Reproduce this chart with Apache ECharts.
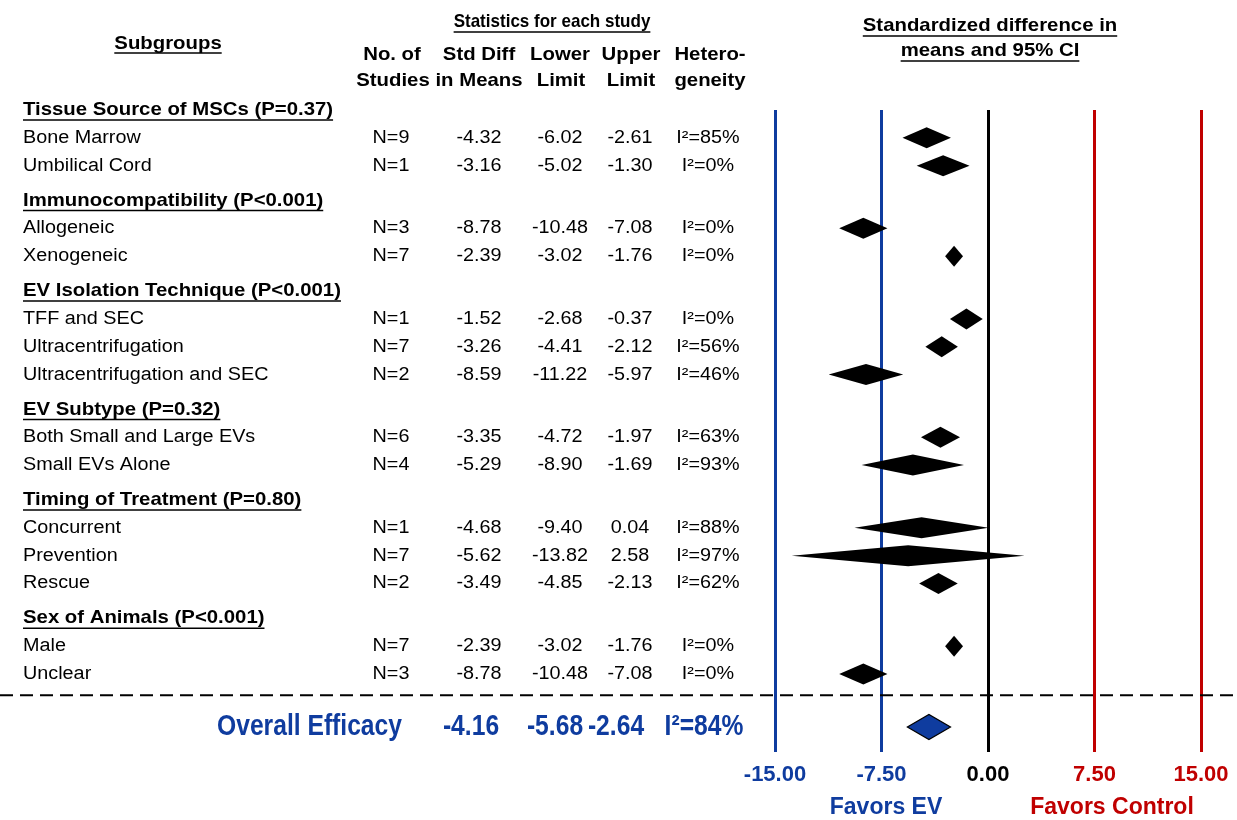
<!DOCTYPE html>
<html>
<head>
<meta charset="utf-8">
<script src="https://cdn.jsdelivr.net/npm/echarts@6/dist/echarts.min.js"></script>
<style>
html,body{margin:0;padding:0;background:#fff;}
#main{width:1237px;height:820px;}
</style>
</head>
<body>
<div id="main"></div>
<script>
// ---------------- DATA ----------------
const groupHeaders = [
  'Tissue Source of MSCs (P=0.37)',
  'Immunocompatibility (P<0.001)',
  'EV Isolation Technique (P<0.001)',
  'EV Subtype (P=0.32)',
  'Timing of Treatment (P=0.80)',
  'Sex of Animals (P<0.001)'
];
const subgroupLabels = [
  'Bone Marrow', 'Umbilical Cord',
  'Allogeneic', 'Xenogeneic',
  'TFF and SEC', 'Ultracentrifugation', 'Ultracentrifugation and SEC',
  'Both Small and Large EVs', 'Small EVs Alone',
  'Concurrent', 'Prevention', 'Rescue',
  'Male', 'Unclear'
];
const subgroupGroup = [0,0, 1,1, 2,2,2, 3,3, 4,4,4, 5,5];
const nStudies      = [9,1, 3,7, 1,7,2, 6,4, 1,7,2, 7,3];
const stdDiff    = [-4.32,-3.16, -8.78,-2.39, -1.52,-3.26,-8.59, -3.35,-5.29, -4.68,-5.62,-3.49, -2.39,-8.78];
const lowerLimit = [-6.02,-5.02, -10.48,-3.02, -2.68,-4.41,-11.22, -4.72,-8.90, -9.40,-13.82,-4.85, -3.02,-10.48];
const upperLimit = [-2.61,-1.30, -7.08,-1.76, -0.37,-2.12,-5.97, -1.97,-1.69, 0.04,2.58,-2.13, -1.76,-7.08];
const heterogeneityI2 = [85,0, 0,0, 0,56,46, 63,93, 88,97,62, 0,0];

const overallLabel = 'Overall Efficacy';
const overallStdDiff = -4.16;
const overallLower = -5.68;
const overallUpper = -2.64;
const overallI2 = 84;

const axisTicks = [-15, -7.5, 0, 7.5, 15];

// ---------------- STYLE ----------------
const FONT = "'Liberation Sans', Arial, Helvetica, sans-serif";
const BLUE = '#0f3c9f';
const RED = '#c00000';
const SX = 1.1;           // horizontal stretch of reference text
const BODY = 18, HEAD = 18.5;
const COL = { label: 23, n: 391, sd: 479, lo: 560, up: 630, het: 708 };
const GAP = 0.25;

const mctx = document.createElement('canvas').getContext('2d');
function measure(text, font) { mctx.font = font; return mctx.measureText(text).width; }

function T(x, y, text, size, weight, color, align, sx) {
  const font = weight + ' ' + size + 'px ' + FONT;
  return { type: 'text', x: x, y: y, scaleX: sx || 1, silent: true,
    style: { text: text, font: font, fill: color, align: align, verticalAlign: 'middle',
             textAlign: align, textVerticalAlign: 'middle' } };
}
function U(x, y, text, size, weight, color, align, sx, off) {
  const font = weight + ' ' + size + 'px ' + FONT;
  const w = measure(text, font) * (sx || 1);
  const x0 = align === 'center' ? x - w / 2 : (align === 'right' ? x - w : x);
  const yy = y + (off || size * 0.55);
  return [T(x, y, text, size, weight, color, align, sx),
    { type: 'line', silent: true, shape: { x1: x0, y1: yy, x2: x0 + w, y2: yy },
      style: { stroke: color, lineWidth: 1.5 } }];
}

// ---------------- ROWS ----------------
const rows = [];
let pos = 0;
groupHeaders.forEach(function (h, g) {
  if (g > 0) pos += GAP;
  rows.push([0, 0, 0, pos, 0, g]);
  pos += 1;
  subgroupGroup.forEach(function (gg, i) {
    if (gg === g) { rows.push([lowerLimit[i], stdDiff[i], upperLimit[i], pos, 1, i]); pos += 1; }
  });
});
const lastPos = pos - 1;
rows.push([overallLower, overallStdDiff, overallUpper, lastPos + 1.9, 2, 0]);
const dashPos = lastPos + 0.76;

function renderItem(params, api) {
  const kind = api.value(4), idx = api.value(5), p = api.value(3);
  const y = api.coord([0, p])[1];
  let ch = [];
  if (kind === 0) {
    ch = ch.concat(U(COL.label, y, groupHeaders[idx], HEAD, 'bold', '#000', 'left', SX, 10));
  } else if (kind === 1) {
    ch.push(T(COL.label, y, subgroupLabels[idx], BODY, 'normal', '#000', 'left', SX));
    ch.push(T(COL.n, y, 'N=' + nStudies[idx], BODY, 'normal', '#000', 'center', SX));
    ch.push(T(COL.sd, y, stdDiff[idx].toFixed(2), BODY, 'normal', '#000', 'center', SX));
    ch.push(T(COL.lo, y, lowerLimit[idx].toFixed(2), BODY, 'normal', '#000', 'center', SX));
    ch.push(T(COL.up, y, upperLimit[idx].toFixed(2), BODY, 'normal', '#000', 'center', SX));
    ch.push(T(COL.het, y, 'I\u00B2=' + heterogeneityI2[idx] + '%', BODY, 'normal', '#000', 'center', SX));
    const l = api.coord([api.value(0), p]), m = api.coord([api.value(1), p]), u = api.coord([api.value(2), p]);
    const h = 10.5;
    ch.push({ type: 'polygon', shape: { points: [[l[0], y], [m[0], y - h], [u[0], y], [m[0], y + h]] },
      style: { fill: '#000' } });
  } else {
    const OS = 29, OSX = 0.85;
    ch.push(T(402, y, overallLabel, OS, 'bold', BLUE, 'right', OSX));
    ch.push(T(471, y, overallStdDiff.toFixed(2), OS, 'bold', BLUE, 'center', OSX));
    ch.push(T(555, y, overallLower.toFixed(2), OS, 'bold', BLUE, 'center', OSX));
    ch.push(T(616, y, overallUpper.toFixed(2), OS, 'bold', BLUE, 'center', OSX));
    ch.push(T(704, y, 'I\u00B2=' + overallI2 + '%', OS, 'bold', BLUE, 'center', OSX));
    const l = api.coord([api.value(0), p]), m = api.coord([api.value(1), p]), u = api.coord([api.value(2), p]);
    const h = 12.5;
    ch.push({ type: 'polygon', shape: { points: [[l[0], y], [m[0], y - h], [u[0], y], [m[0], y + h]] },
      style: { fill: BLUE, stroke: '#000', lineWidth: 1.2 } });
    const yd = api.coord([0, dashPos])[1];
    ch.push({ type: 'line', shape: { x1: 0, y1: yd, x2: 1233, y2: yd },
      style: { stroke: '#000', lineWidth: 2, lineDash: [13, 7] } });
  }
  return { type: 'group', children: ch };
}

const headerGraphics = [].concat(
  U(168, 44, 'Subgroups', HEAD, 'bold', '#000', 'center', SX, 9),
  U(552, 22, 'Statistics for each study', HEAD, 'bold', '#000', 'center', 0.92, 10),
  [T(392, 55, 'No. of', HEAD, 'bold', '#000', 'center', SX),
   T(393, 81, 'Studies', HEAD, 'bold', '#000', 'center', SX),
   T(479, 55, 'Std Diff', HEAD, 'bold', '#000', 'center', SX),
   T(479, 81, 'in Means', HEAD, 'bold', '#000', 'center', SX),
   T(560, 55, 'Lower', HEAD, 'bold', '#000', 'center', SX),
   T(561, 81, 'Limit', HEAD, 'bold', '#000', 'center', SX),
   T(631, 55, 'Upper', HEAD, 'bold', '#000', 'center', SX),
   T(631, 81, 'Limit', HEAD, 'bold', '#000', 'center', SX),
   T(710, 55, 'Hetero-', HEAD, 'bold', '#000', 'center', SX),
   T(710, 81, 'geneity', HEAD, 'bold', '#000', 'center', SX)],
  U(990, 26, 'Standardized difference in', HEAD, 'bold', '#000', 'center', SX, 10),
  U(990, 51, 'means and 95% CI', HEAD, 'bold', '#000', 'center', SX, 10),
  [T(886, 808, 'Favors EV', 23, 'bold', BLUE, 'center', 1),
   T(1112, 808, 'Favors Control', 23, 'bold', RED, 'center', 1)]
);

const chart = echarts.init(document.getElementById('main'), null, { renderer: 'canvas' });
chart.setOption({
  animation: false,
  backgroundColor: '#fff',
  grid: { left: 775, right: 36, top: 110, bottom: 68, containLabel: false },
  xAxis: {
    type: 'value', min: axisTicks[0], max: axisTicks[axisTicks.length - 1],
    interval: axisTicks[1] - axisTicks[0],
    axisLine: { show: false }, axisTick: { show: false },
    splitLine: { show: true, showMinLine: true, showMaxLine: true,
      lineStyle: { width: 3, color: [BLUE, BLUE, '#000', RED, RED] } },
    axisLabel: {
      margin: 12,
      formatter: function (v) { return '{' + (v < 0 ? 'n' : (v > 0 ? 'p' : 'z')) + '|' + v.toFixed(2) + '}'; },
      rich: {
        n: { color: BLUE, fontWeight: 'bold', fontSize: 22, fontFamily: FONT },
        z: { color: '#000', fontWeight: 'bold', fontSize: 22, fontFamily: FONT },
        p: { color: RED, fontWeight: 'bold', fontSize: 22, fontFamily: FONT }
      }
    }
  },
  yAxis: { type: 'value', inverse: true, min: 0, max: 23.05, show: false, splitLine: { show: false } },
  graphic: headerGraphics,
  series: [{
    type: 'custom', clip: false, renderItem: renderItem,
    encode: { x: [0, 1, 2], y: 3 },
    data: rows
  }]
});
</script>
</body>
</html>
